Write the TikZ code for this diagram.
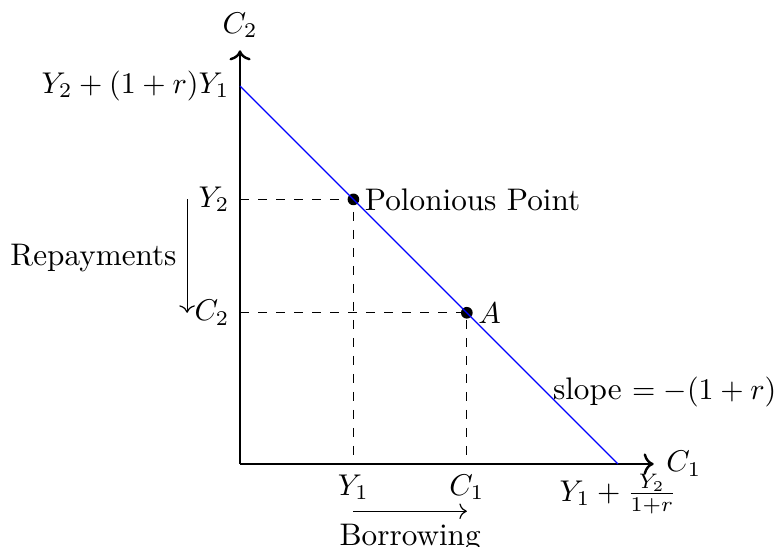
\documentclass[tikz,border=0pt]{standalone}
\usepackage{fontspec}
\usetikzlibrary{arrows.meta}
\begin{document}
\begin{tikzpicture}[x=12.6pt,y=12.6pt,
  txt/.style={font=\fontsize{10.4}{12.5}\selectfont},
  axis/.style={thick,->},
  guide/.style={dashed},
  budget/.style={blue},
  dotpt/.style={circle,fill=black,inner sep=0pt,minimum size=3.9pt},
  note/.style={->}]
\useasboundingbox (-6.35,-2.196) rectangle (14.365,12.275);
\coordinate (O) at (0,0);
\node[inner sep=0pt] (xend) at (11,0) {};
\node[inner sep=0pt] (yend) at (0,11) {};
\node[right] (c1lab) at (xend) {$C_1$};
\node[above] (c2lab) at (yend) {$C_2$};
\draw[axis] (O) -- (xend);
\draw[axis] (O) -- (yend);
\coordinate (yint) at (0,10);
\coordinate (xint) at (10,0);
\coordinate (y2) at (0,7);
\coordinate (c2) at (0,4);
\coordinate (y1) at (3,0);
\coordinate (c1) at (6,0);
\node[dotpt] (P) at (3,7) {};
\node[dotpt] (A) at (6,4) {};
\draw[guide] (y2) -- (P.center) -- (y1);
\draw[guide] (c2) -- (A.center) -- (c1);
\draw[budget] (yint) -- (xint);
\node[left] (yintlab) at (yint) {$Y_2+(1+r)Y_1$};
\node[left] (y2lab) at (y2) {$Y_2$};
\node[left] (c2lab2) at (c2) {$C_2$};
\node[below] (y1lab) at (y1) {$Y_1$};
\node[below] (c1lab2) at (c1) {$C_1$};
\node[below] (xintlab) at (xint) {$Y_1+\frac{Y_2}{1+r}$};
\node[txt,right,inner sep=1.5pt] (plab) at (P.east) {Polonious Point};
\node[right,inner sep=1.5pt] (alab) at (A.east) {$A$};
\node[txt,right] (slope) at (8.0,1.9) {slope $=-(1+r)$};
\coordinate (rtop) at (-1.4,7);
\coordinate (rbot) at (-1.4,4);
\draw[note] (rtop) -- (rbot);
\node[txt,left] (rep) at (-1.4,5.45) {Repayments};
\coordinate (bl) at (3,-1.25);
\coordinate (br) at (6,-1.25);
\draw[note] (bl) -- (br);
\node[txt,below] (bor) at (4.5,-1.3) {Borrowing};
\end{tikzpicture}
\end{document}
